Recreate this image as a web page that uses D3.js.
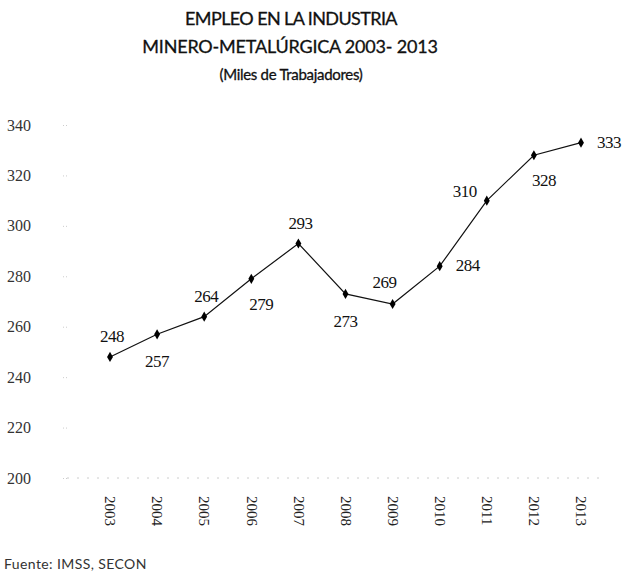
<!DOCTYPE html>
<meta charset="utf-8">
<head>
    <script type="text/javascript" src="https://cdn.jsdelivr.net/npm/d3@7/dist/d3.min.js"></script>
    <style>
        body { margin: 0; background: #fff; }
        .title { font-family: Lato, "Open Sans", sans-serif; fill: #111; }
        .num { font-family: "Liberation Serif", "DejaVu Serif", serif; }
    </style>
    <title>Empleo en la industria minero-metalúrgica</title>
</head>
<body>
<script>
    // data
    var years = ["2003", "2004", "2005", "2006", "2007", "2008", "2009", "2010", "2011", "2012", "2013"];
    var workers = [248, 257, 264, 279, 293, 273, 269, 284, 310, 328, 333];
    var yTicks = [200, 220, 240, 260, 280, 300, 320, 340];
    // where each value label sits relative to its point
    var labelSide = ["above", "below", "above", "belowRight", "above", "below", "aboveLeft", "right", "left", "belowRight", "right"];

    var width = 629, height = 578;

    var svg = d3.select("body").append("svg")
        .attr("width", width)
        .attr("height", height);

    // title
    var title = svg.append("g").attr("class", "title").attr("text-anchor", "middle")
        .attr("stroke", "#111").attr("stroke-width", 0.3);
    title.append("text").attr("x", 291).attr("y", 25)
        .style("font-size", "18px").style("letter-spacing", "-0.6px")
        .text("EMPLEO EN LA INDUSTRIA");
    title.append("text").attr("x", 290).attr("y", 53)
        .style("font-size", "18px").style("letter-spacing", "-0.2px")
        .text("MINERO-METALÚRGICA 2003- 2013");
    title.append("text").attr("x", 291).attr("y", 80)
        .style("font-size", "15px").style("letter-spacing", "-0.3px")
        .text("(Miles de Trabajadores)");

    var x = d3.scalePoint()
        .domain(years)
        .range([110, 581]);

    var y = d3.scaleLinear()
        .domain([200, 340])
        .range([478, 125]);

    // y axis: labels with faint dotted ticks
    var yAxis = d3.axisLeft(y)
        .tickValues(yTicks)
        .tickSize(4)
        .tickPadding(22);

    var gy = svg.append("g")
        .attr("transform", "translate(67,0)")
        .call(yAxis);
    gy.select(".domain").remove();
    gy.selectAll(".tick line").attr("stroke", "#ccc").attr("stroke-dasharray", "1,2");
    gy.selectAll(".tick text")
        .attr("class", "num")
        .attr("fill", "#333")
        .style("font-size", "16px")
        .attr("text-anchor", "start")
        .attr("x", -60);

    // faint baseline
    svg.append("line")
        .attr("x1", 67).attr("x2", 600)
        .attr("y1", y(200)).attr("y2", y(200))
        .attr("stroke", "#ccc")
        .attr("stroke-dasharray", "2,8");

    // x axis: rotated year labels
    var xAxis = d3.axisBottom(x).tickSize(0).tickPadding(0);
    var gx = svg.append("g")
        .attr("transform", "translate(0," + (y(200) + 18) + ")")
        .call(xAxis);
    gx.select(".domain").remove();
    gx.selectAll(".tick text")
        .attr("class", "num")
        .attr("fill", "#222")
        .style("font-size", "15px")
        .attr("text-anchor", "start")
        .attr("dy", "0.35em")
        .attr("y", 0)
        .attr("transform", "rotate(90)");

    // line
    var line = d3.line()
        .x(function (d, i) { return x(years[i]); })
        .y(function (d) { return y(d); });

    svg.append("path")
        .datum(workers)
        .attr("d", line)
        .attr("fill", "none")
        .attr("stroke", "#111")
        .attr("stroke-width", 1.2);

    // markers
    svg.append("g").selectAll("path")
        .data(workers)
        .enter()
        .append("path")
        .attr("d", d3.symbol().type(d3.symbolDiamond).size(30))
        .attr("transform", function (d, i) { return "translate(" + x(years[i]) + "," + y(d) + ")"; })
        .attr("fill", "#000");

    // value labels
    var offsets = {
        above: [2, -15],
        below: [0, 33],
        belowRight: [10, 31],
        aboveLeft: [-8, -16],
        right: [28, 5],
        left: [-22, -4]
    };

    svg.append("g").selectAll("text")
        .data(workers)
        .enter()
        .append("text")
        .attr("class", "num")
        .attr("text-anchor", "middle")
        .style("font-size", "17px")
        .style("letter-spacing", "-0.5px")
        .attr("fill", "#111")
        .attr("x", function (d, i) { return x(years[i]) + offsets[labelSide[i]][0]; })
        .attr("y", function (d, i) { return y(d) + offsets[labelSide[i]][1]; })
        .text(function (d) { return d; });

    // source
    svg.append("text")
        .attr("x", 4)
        .attr("y", 569)
        .style("font-family", "Lato, 'Open Sans', sans-serif")
        .style("font-size", "14px")
        .style("letter-spacing", "0.4px")
        .attr("fill", "#333")
        .text("Fuente: IMSS, SECON");
</script>
</body>
</html>
